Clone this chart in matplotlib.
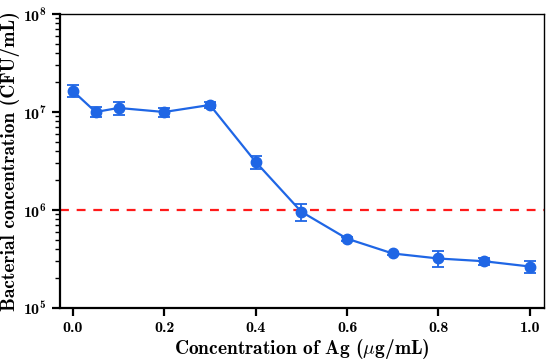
import matplotlib
matplotlib.use("Agg")
import matplotlib.pyplot as plt
import numpy as np

conc = [0.0, 0.05, 0.1, 0.2, 0.3, 0.4, 0.5, 0.6, 0.7, 0.8, 0.9, 1.0]
cfu = [1.64e7, 1.0e7, 1.1e7, 1.0e7, 1.18e7, 3.1e6, 9.6e5, 5.1e5, 3.6e5, 3.2e5, 3.0e5, 2.65e5]
err = [2.3e6, 1.2e6, 1.7e6, 1.1e6, 0.9e6, 4.5e5, 1.8e5, 2.5e4, 1.5e4, 6.0e4, 2.5e4, 3.5e4]
threshold = 1e6
xticks = [0.0, 0.2, 0.4, 0.6, 0.8, 1.0]

plt.rcParams['mathtext.fontset'] = 'custom'
plt.rcParams['mathtext.rm'] = 'cmb10'
plt.rcParams['mathtext.it'] = 'cmmi10'
plt.rcParams['mathtext.bf'] = 'cmb10'
plt.rcParams['font.family'] = ['cmb10', 'DejaVu Serif']
plt.rcParams['axes.unicode_minus'] = False

fig = plt.figure(figsize=(5.5, 3.6), dpi=100)
ax = fig.add_axes([60/550, 1-308/360, 484/550, 294/360])

color = '#1f66e5'
ax.errorbar(conc, cfu, yerr=err, color=color, marker='o', markersize=7.5,
            linewidth=1.6, capsize=4, elinewidth=1.3, capthick=1.3, zorder=3)
ax.axhline(threshold, color='#ff1a1a', linestyle=(0, (4, 3.5)), linewidth=1.6, zorder=2)

ax.set_yscale('log')
ax.set_ylim(1e5, 1e8)
ax.set_xlim(-0.028, 1.031)
ax.set_xticks(xticks)
ax.set_xticklabels([f"{t:.1f}" for t in xticks])
ax.set_yticks([1e5, 1e6, 1e7, 1e8])
ax.set_yticklabels([r'$10^5$', r'$10^6$', r'$10^7$', r'$10^8$'])

ax.tick_params(axis='both', which='major', direction='out', width=1.6, length=6, labelsize=11.5)
ax.tick_params(axis='y', which='minor', direction='out', width=1.0, length=3.5)
ax.tick_params(axis='x', which='minor', bottom=False)
for s in ax.spines.values():
    s.set_linewidth(1.0)
ax.spines['left'].set_linewidth(1.6)
ax.spines['bottom'].set_linewidth(1.6)

ax.set_xlabel(r'Concentration of Ag ($\mu$g/mL)', fontsize=14, labelpad=1)
ax.set_ylabel('Bacterial concentration (CFU/mL)', fontsize=14, labelpad=2)

fig.savefig('out.png', dpi=100)
